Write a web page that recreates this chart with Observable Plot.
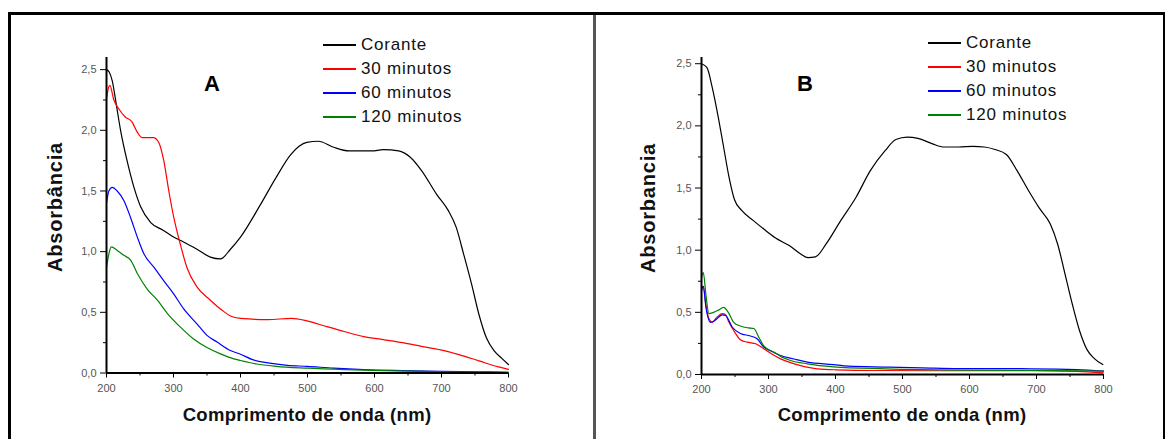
<!DOCTYPE html>
<html><head><meta charset="utf-8">
<script src="https://cdn.jsdelivr.net/npm/d3@7"></script>
<script src="https://cdn.jsdelivr.net/npm/@observablehq/plot@0.6"></script>
<style>
body{margin:0;background:#fff;}
#wrap{position:relative;width:1167px;height:439px;overflow:hidden;font-family:"Liberation Sans",Arial,sans-serif;background:#fff;}
.frame{position:absolute;left:8px;top:12px;width:1152px;height:440px;border-left:3px solid #000;border-top:3px solid #000;border-right:2px solid #000;}
.divider{position:absolute;left:593px;top:15px;width:3px;height:430px;background:#555;}
.xt{position:absolute;font-weight:bold;font-size:18.5px;letter-spacing:0.3px;color:#111;white-space:nowrap;transform:translate(-50%,-50%);}
.yt{position:absolute;font-weight:bold;font-size:20px;letter-spacing:0.8px;color:#111;white-space:nowrap;transform:translate(-50%,-50%) rotate(-90deg);}
.pl{position:absolute;font-weight:bold;font-size:22px;color:#000;transform:translate(-50%,-50%);}
.leg{position:absolute;}
.leg .row{position:absolute;left:0;height:20px;white-space:nowrap;}
.leg .sw{position:absolute;left:0;top:9px;width:33px;height:2px;}
.leg .lt{position:absolute;left:38px;top:0;font-size:17px;letter-spacing:0.8px;color:#111;line-height:20px;}
.plot{position:absolute;top:0;}
</style></head><body>
<div id="wrap"></div>
<script>
// ---- data ----
const seriesNames = ["Corante", "30 minutos", "60 minutos", "120 minutos"];
const seriesColors = ["#000000", "#ff0000", "#0000ff", "#008000"];
const xMajor = [200, 300, 400, 500, 600, 700, 800];
const xMinor = [250, 350, 450, 550, 650, 750];
const yMajor = [0, 0.5, 1.0, 1.5, 2.0, 2.5];
const yMinor = [0.25, 0.75, 1.25, 1.75, 2.25];

// Panel A
const A_corante = [[200,2.5],[204,2.48],[208.5,2.41],[215,2.2],[221,2.0],[232,1.72],[241,1.53],[251,1.37],[266,1.24],[285,1.175],[300,1.12],[315,1.08],[335,1.02],[355,0.955],[370,0.94],[385,1.02],[400,1.12],[430,1.39],[453,1.61],[475,1.80],[499,1.90],[516,1.91],[539,1.86],[562,1.83],[596,1.83],[613,1.84],[636,1.83],[653,1.78],[670,1.67],[693,1.47],[710,1.34],[722,1.20],[733,0.98],[745,0.73],[756,0.48],[767,0.29],[779,0.18],[790,0.12],[800,0.07]];
const A_30 = [[200,2.26],[203.5,2.36],[205,2.37],[211,2.25],[218,2.18],[228,2.11],[238,2.07],[246,1.985],[253,1.94],[270,1.94],[278,1.90],[285.5,1.75],[293,1.50],[300.5,1.28],[310,1.065],[320,0.87],[335,0.71],[355,0.60],[373,0.515],[385,0.47],[400,0.45],[441,0.44],[476,0.45],[499,0.43],[527,0.385],[556,0.34],[584,0.30],[613,0.275],[642,0.25],[670,0.22],[699,0.19],[727,0.15],[756,0.10],[785,0.05],[800,0.03]];
const A_60 = [[200,1.40],[203.5,1.50],[208.5,1.53],[216,1.50],[226,1.42],[236,1.28],[246,1.12],[256,0.98],[271,0.87],[285.5,0.76],[300.5,0.65],[315,0.53],[335,0.405],[350,0.31],[365,0.255],[385,0.185],[400,0.155],[418,0.11],[441,0.083],[470,0.063],[499,0.055],[539,0.04],[584,0.028],[642,0.02],[699,0.014],[756,0.01],[800,0.006]];
const A_120 = [[200,0.87],[203.5,0.98],[207,1.04],[216,1.01],[226,0.97],[236,0.93],[246,0.82],[261,0.69],[276,0.60],[291,0.49],[310,0.38],[330,0.28],[350,0.21],[370,0.158],[390,0.117],[400,0.103],[424,0.074],[453,0.055],[499,0.04],[556,0.028],[613,0.02],[670,0.014],[727,0.008],[800,0.006]];

// Panel B
const B_corante = [[200,2.5],[208,2.47],[216,2.31],[225,2.07],[233,1.83],[241,1.59],[249,1.41],[260,1.32],[277,1.24],[293,1.17],[310,1.10],[331.5,1.035],[348,0.97],[359,0.94],[370,0.946],[386,1.05],[408,1.24],[430,1.42],[452,1.64],[474,1.80],[490,1.89],[507,1.91],[523,1.90],[545,1.855],[562,1.83],[584,1.83],[605,1.835],[622,1.83],[638,1.81],[655,1.77],[671,1.64],[688,1.48],[704,1.34],[720.6,1.21],[731.5,1.05],[742.5,0.81],[753.5,0.565],[764.4,0.35],[775.4,0.20],[786,0.13],[799,0.08]];
const B_30 = [[200,0.70],[202.7,0.71],[206.6,0.56],[211,0.45],[216,0.42],[222,0.455],[231,0.49],[236,0.48],[241,0.42],[248,0.354],[258,0.28],[268,0.26],[281,0.247],[293,0.207],[305,0.165],[318,0.126],[333,0.095],[348,0.072],[373,0.046],[400,0.038],[474,0.032],[584,0.03],[693,0.03],[760,0.025],[800,0.013]];
const B_60 = [[200,0.67],[202.7,0.71],[206.6,0.54],[213.4,0.42],[220,0.435],[231,0.48],[236,0.475],[246,0.38],[258,0.33],[273,0.31],[283,0.287],[293,0.22],[305,0.185],[318,0.153],[338,0.125],[358,0.10],[397,0.08],[419,0.067],[474,0.06],[529,0.054],[584,0.048],[693,0.046],[760,0.04],[800,0.027]];
const B_120 = [[200,0.78],[202.7,0.82],[206.6,0.64],[211,0.49],[218,0.50],[226,0.52],[233,0.54],[240,0.50],[248,0.42],[258,0.39],[270,0.375],[278,0.37],[285.5,0.30],[293,0.23],[308,0.18],[320,0.14],[333,0.113],[358,0.086],[397,0.062],[474,0.046],[584,0.035],[693,0.032],[800,0.027]];

const panelA = {label: "A", yTitle: "Absorbância", series: [A_corante, A_30, A_60, A_120]};
const panelB = {label: "B", yTitle: "Absorbancia", series: [B_corante, B_30, B_60, B_120]};

// ---- drawing ----
const wrap = document.getElementById("wrap");
function add(html){ wrap.insertAdjacentHTML("beforeend", html); }
add('<div class="frame"></div><div class="divider"></div>');

function makePanel(panel, cfg) {
  const rows = [];
  panel.series.forEach((s, i) => s.forEach(([x, y]) => rows.push({x, y, series: seriesNames[i]})));
  const fmt = d => d.toFixed(1).replace(".", ",");
  const chart = Plot.plot({
    width: cfg.width, height: 439,
    marginLeft: cfg.ml, marginRight: cfg.mr, marginTop: cfg.mt, marginBottom: cfg.mb,
    style: {fontFamily: "'Liberation Sans', Arial, sans-serif", fontSize: "11px", background: "transparent", overflow: "visible"},
    x: {domain: [200, 800]},
    y: {domain: [0, cfg.ytop]},
    color: {domain: seriesNames, range: seriesColors},
    marks: [
      Plot.axisX({ticks: xMinor, tickSize: 3, tickFormat: () => "", label: null, stroke: "#000"}),
      Plot.axisX({ticks: xMajor, tickSize: 5, tickPadding: 6, tickFormat: d => String(d), label: null, fill: "#555", stroke: "#000", fontSize: 11}),
      Plot.axisY({ticks: yMinor, tickSize: 3, tickFormat: () => "", label: null, stroke: "#000"}),
      Plot.axisY({ticks: yMajor, tickSize: 6, tickPadding: 4, tickFormat: fmt, label: null, fill: "#555", stroke: "#000", fontSize: 11}),
      Plot.line(rows, {x: "x", y: "y", z: "series", stroke: "series", strokeWidth: 1.2, curve: "monotone-x"}),
      Plot.ruleY([0], {stroke: "#000", strokeWidth: 2}),
      Plot.ruleX([200], {stroke: "#000", strokeWidth: 2})
    ]
  });
  chart.classList.add("plot");
  chart.style.left = cfg.left + "px";
  wrap.appendChild(chart);

  add(`<div class="xt" style="left:${cfg.xtX}px;top:415px">Comprimento de onda (nm)</div>`);
  add(`<div class="yt" style="left:${cfg.ytX}px;top:${cfg.ytY}px">${panel.yTitle}</div>`);
  add(`<div class="pl" style="left:${cfg.plX}px;top:84px">${panel.label}</div>`);
  let leg = `<div class="leg" style="left:${cfg.legX}px;top:${cfg.legY}px">`;
  seriesNames.forEach((n, i) => {
    leg += `<div class="row" style="top:${i * 24}px"><div class="sw" style="background:${seriesColors[i]}"></div><div class="lt">${n}</div></div>`;
  });
  leg += "</div>";
  add(leg);
}

makePanel(panelA, {left: 0, width: 593, ml: 106, mr: 85, mt: 57, mb: 66.5, ytop: 2.6,
  xtX: 307, ytX: 55, ytY: 207, plX: 212, legX: 323, legY: 35});
makePanel(panelB, {left: 593, width: 574, ml: 108, mr: 64, mt: 57, mb: 65, ytop: 2.55,
  xtX: 902, ytX: 648, ytY: 208, plX: 805, legX: 928, legY: 33});
</script>
</body></html>
